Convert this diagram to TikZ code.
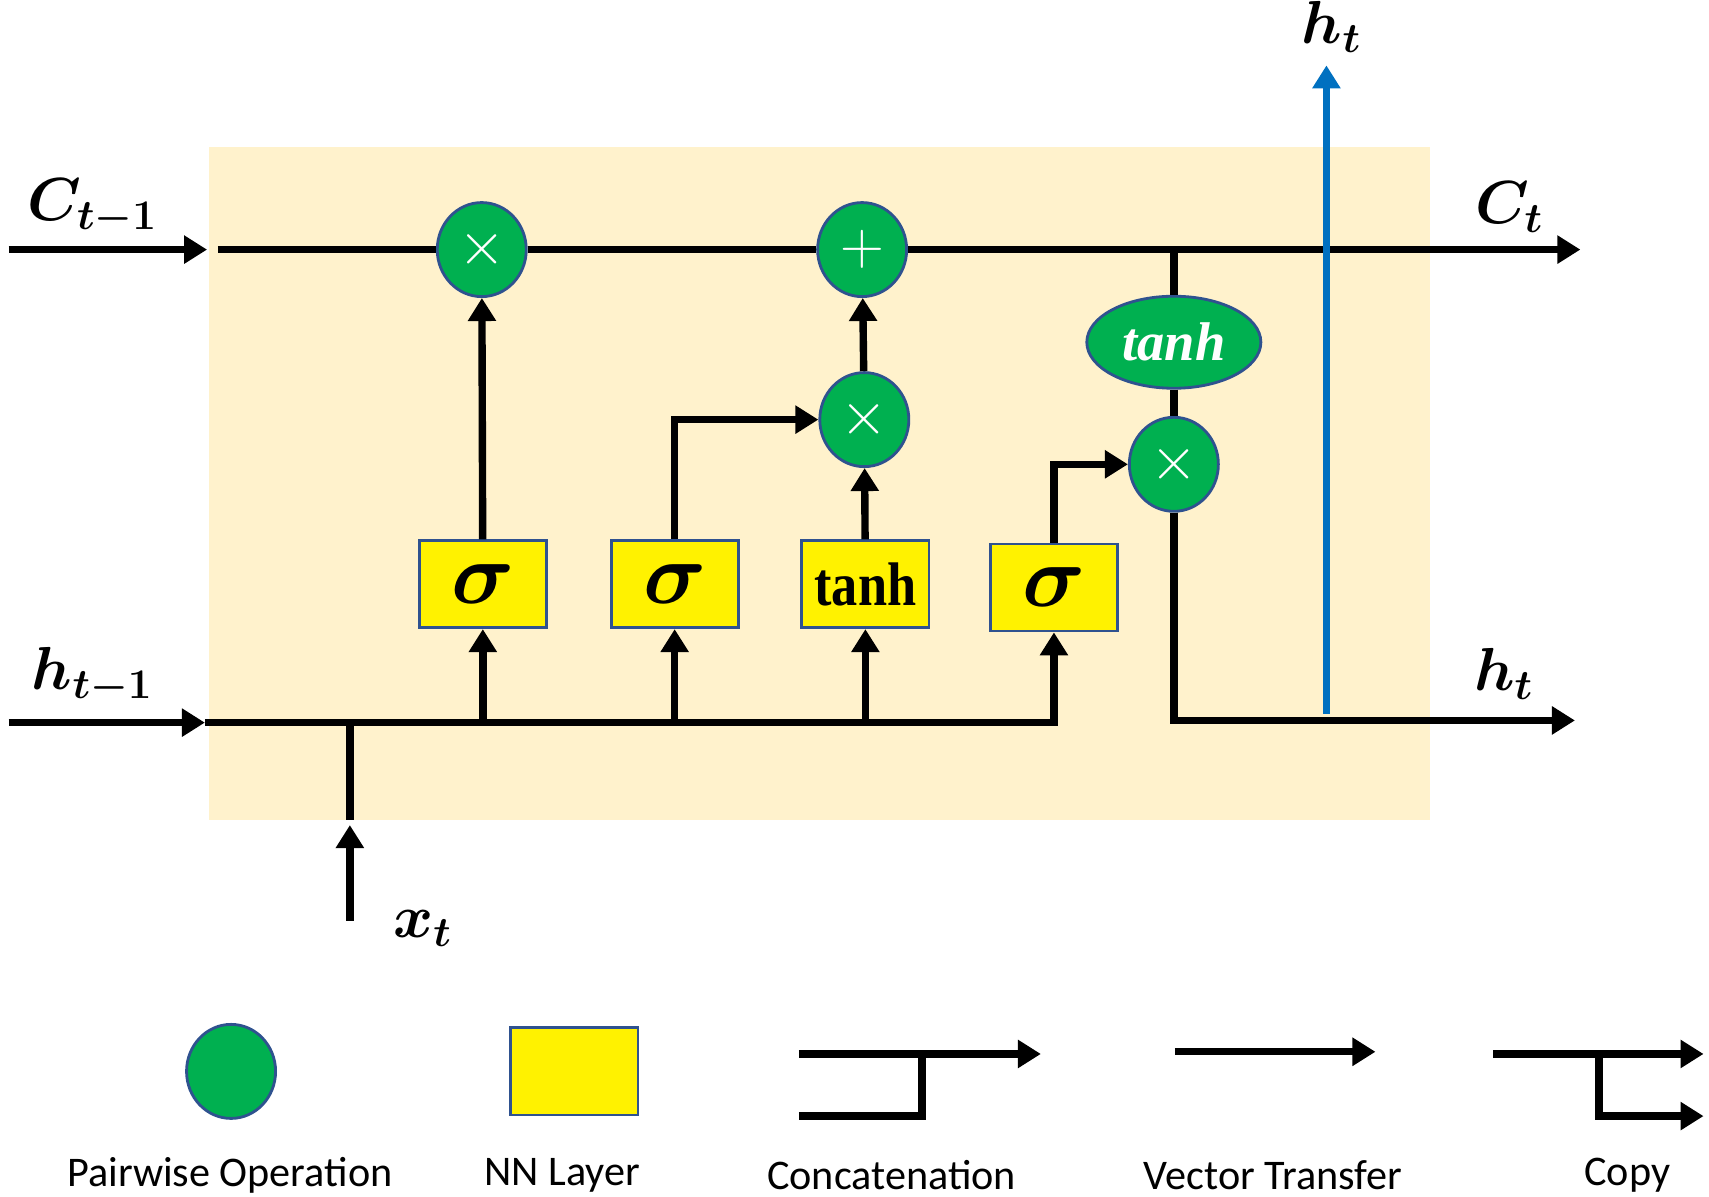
\documentclass[tikz,border=0pt]{standalone}
\usepackage{amsmath,amssymb,bm}
\usepackage{fontspec}
\newfontfamily\legendfont{Carlito}
\newfontfamily\cellfont{Liberation Serif}
\usetikzlibrary{arrows.meta,positioning,shapes.geometric,calc}
\usepackage{xcolor}
\definecolor{cellbg}{RGB}{255,242,204}
\definecolor{opgreen}{RGB}{0,176,80}
\definecolor{opedge}{RGB}{47,82,143}
\definecolor{outblue}{RGB}{0,112,192}
\newcommand{\squeeze}[1]{\scalebox{0.85}[1]{#1}}

\begin{document}
\begin{tikzpicture}[
      x=0.0109cm, y=-0.0109cm,
      opnode/.style={draw=opedge, line width=0.8pt, fill=opgreen, ellipse,
                     minimum width=0.89cm, minimum height=0.94cm, inner sep=0pt,
                     text=white, font=\fontsize{19}{19}\selectfont},
      tanhnode/.style={draw=opedge, line width=0.8pt, fill=opgreen, ellipse,
                       minimum width=1.74cm, minimum height=0.92cm, inner sep=0pt,
                       text=white, font=\cellfont\bfseries\itshape\fontsize{15.5}{17}\selectfont},
      gate/.style={draw=opedge, line width=0.8pt, fill=yellow, rectangle,
                   minimum width=1.27cm, minimum height=0.87cm, inner sep=0pt},
      sigtext/.style={font=\fontsize{30}{32}\selectfont},
      vlabel/.style={font=\fontsize{16.5}{19}\selectfont, inner sep=0pt},
      legtext/.style={font=\legendfont\fontsize{12}{14}\selectfont, inner sep=1pt},
      wire/.style={line width=2.1pt},
      arrow/.style={-{Triangle[length=0.23cm, width=0.27cm]}, line width=2.1pt},
      outarrow/.style={-{Triangle[length=0.23cm, width=0.27cm]}, line width=2.1pt, draw=outblue},
    ]
    \useasboundingbox (0,0) rectangle (1568,1098);
    \fill[cellbg] (192,135) rectangle (1312,752);

    % ---- pairwise operations ----
    \node[opnode] (mul1) at (442,229) {$\times$};
    \node[opnode] (add) at (791,229) {$+$};
    \node[opnode] (mul2) at (793,385) {$\times$};
    \node[tanhnode] (tnh) at (1077,314) {tanh};
    \node[opnode] (mul3) at (1077,426) {$\times$};

    % ---- gate layers ----
    \node[gate, sigtext] (fgate) at (443,536) {$\boldsymbol{\sigma}$};
    \node[gate, sigtext] (igate) at (619,536) {$\boldsymbol{\sigma}$};
    \node[gate, font=\cellfont\bfseries\fontsize{17.5}{19}\selectfont] (cgate) at (794,536) {\squeeze{tanh}};
    \node[gate, sigtext] (ogate) at (967,539) {$\boldsymbol{\sigma}$};

    % ends of the connectors
    \coordinate (cin) at (8,229);
    \coordinate (cend) at (190,229);
    \coordinate (cstart) at (200,229);
    \coordinate (cout) at (1450,229);
    \coordinate (hin) at (8,663);
    \coordinate (bus) at (188,663);
    \coordinate (hout) at (1445,661);
    \coordinate (xin) at (321,845);
    \coordinate (xtip) at (321,757);
    \coordinate (xtop) at (321,752);
    \coordinate (hupfoot) at (1217,655);
    \coordinate (huptip) at (1217,60);

    % cell state
    \draw[arrow] (cin) -- (cend);
    \draw[wire] (cstart) -- (mul1);
    \draw[wire] (mul1) -- (add);
    \draw[arrow] (add) -- (cout);

    % hidden state and input
    \draw[arrow] (hin) -- (bus);
    \draw[arrow] (bus) -| (ogate);
    \draw[arrow] (xin) -- (xtip);
    \draw[wire] (xtop) -- (xtop |- bus);
    \draw[arrow] (fgate |- bus) -- (fgate);
    \draw[arrow] (igate |- bus) -- (igate);
    \draw[arrow] (cgate |- bus) -- (cgate);

    % gates to operations
    \draw[arrow] (fgate) -- (mul1);
    \draw[arrow] (igate) |- (mul2);
    \draw[arrow] (cgate) -- (mul2);
    \draw[arrow] (mul2) -- (add);
    \draw[arrow] (ogate) |- (mul3);

    % output
    \draw[wire] (tnh |- cout) -- (tnh);
    \draw[wire] (tnh) -- (mul3);
    \draw[arrow] (mul3) |- (hout);
    \draw[outarrow] (hupfoot) -- (huptip);

    % labels
    \node[vlabel] (lcin) at (85,190) {$\boldsymbol{C_{t-1}}$};
    \node[vlabel] (lhin) at (85,620) {$\boldsymbol{h_{t-1}}$};
    \node[vlabel] (lxin) at (388,852) {$\boldsymbol{x_t}$};
    \node[vlabel] (lcout) at (1385,190) {$\boldsymbol{C_t}$};
    \node[vlabel] (lhout) at (1380,618) {$\boldsymbol{h_t}$};
    \node[vlabel] (lhup) at (1222,25) {$\boldsymbol{h_t}$};

    % ---- legend ----
    \node[opnode] (legop) at (212,983) {};
    \node[gate] (legnn) at (527,983) {};
    \coordinate (cat1) at (733,967);
    \coordinate (cat1end) at (955,967);
    \coordinate (cat2) at (733,1024);
    \coordinate (catjoin) at (846,967);
    \coordinate (vec) at (1078,965);
    \coordinate (vecend) at (1262,965);
    \coordinate (cp) at (1370,967);
    \coordinate (cpend) at (1563,967);
    \coordinate (cpsplit) at (1467,967);
    \coordinate (cpend2) at (1563,1024);
    \draw[arrow] (cat1) -- (cat1end);
    \draw[wire] (cat2) -| (catjoin);
    \draw[arrow] (vec) -- (vecend);
    \draw[arrow] (cp) -- (cpend);
    \draw[arrow] (cpsplit) |- (cpend2);

    \node[legtext] (tleg1) at (211,1078) {Pairwise Operation};
    \node[legtext] (tleg2) at (516,1078) {NN Layer};
    \node[legtext] (tleg3) at (818,1078) {Concatenation};
    \node[legtext] (tleg4) at (1168,1078) {Vector Transfer};
    \node[legtext] (tleg5) at (1493,1078) {Copy};
  \end{tikzpicture}
\end{document}
